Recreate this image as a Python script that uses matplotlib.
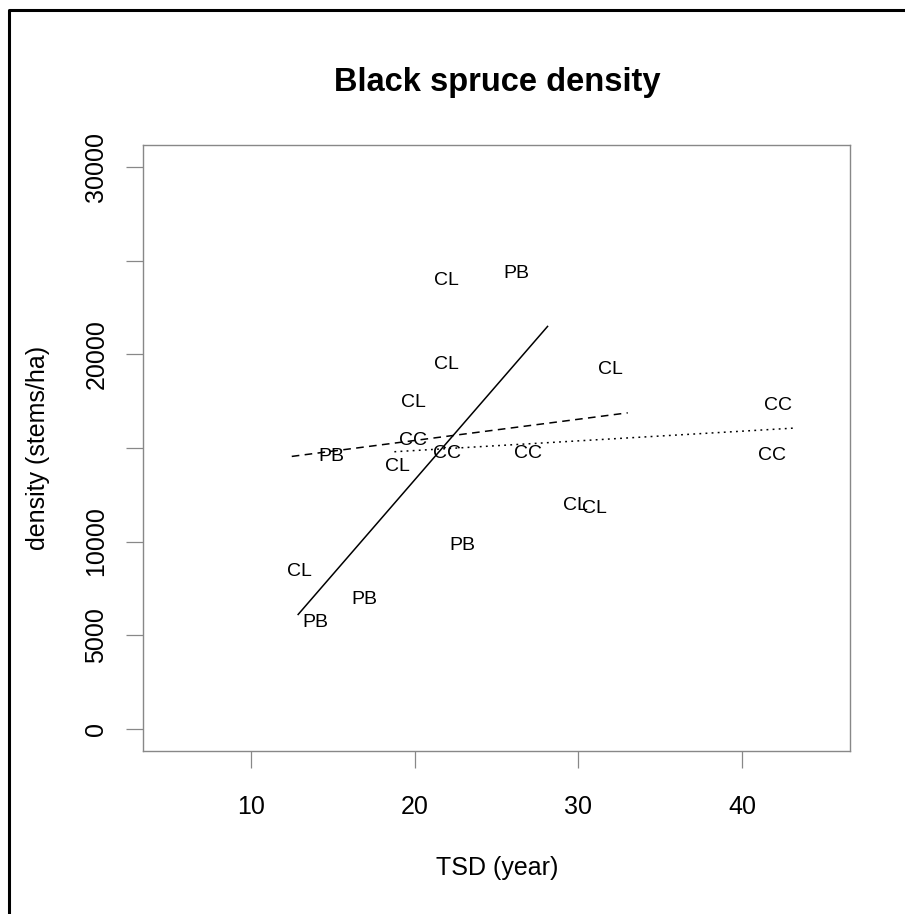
import numpy as np
import matplotlib
matplotlib.use("Agg")
from matplotlib import pyplot as plt
from matplotlib.lines import Line2D

plt.rcParams['font.family'] = ['Liberation Sans', 'DejaVu Sans']

# site labels, TSD (year) and density (stems/ha)
site = ['CL', 'PB', 'CL', 'CL', 'CL', 'CC', 'CC', 'PB', 'CL', 'CC', 'CC',
        'CC', 'CL', 'CL', 'PB', 'CL', 'PB', 'PB']
tsd = [21.95, 26.24, 21.95, 31.94, 19.93, 42.23, 19.87, 14.9, 18.95, 21.95,
       26.9, 41.86, 29.85, 30.96, 22.93, 12.94, 16.92, 13.92]
density = [23950, 24330, 19470, 19200, 17430, 17270, 15400, 14550, 14010,
           14700, 14700, 14600, 11930, 11770, 9790, 8400, 6900, 5670]

# fitted lines (start/end) per group
fit_solid_x = [12.88, 28.12]
fit_solid_y = [6100, 21500]
fit_dash_x = [12.49, 33.02]
fit_dash_y = [14550, 16880]
fit_dot_x = [18.76, 43.1]
fit_dot_y = [14800, 16060]

xticks = [10, 20, 30, 40]
yticks = [0, 5000, 10000, 15000, 20000, 25000, 30000]
ytick_labels = ['0', '5000', '10000', '', '20000', '', '30000']

W, H = 905, 914
fig = plt.figure(figsize=(W / 100, H / 100), dpi=100)
ax = fig.add_axes([143 / W, 1 - 751 / H, (850 - 143) / W, (751 - 145) / H])

for s, x, y in zip(site, tsd, density):
    ax.text(x, y, s, ha='center', va='center', fontsize=14)

ax.plot(fit_solid_x, fit_solid_y, color='black', lw=1.1)
ax.plot(fit_dash_x, fit_dash_y, color='black', lw=1.1, dashes=(5, 3.5))
ax.plot(fit_dot_x, fit_dot_y, color='black', lw=1.1, dashes=(1.2, 2.8))

# R style 4% padding
ax.set_xlim(5 - 1.6, 45 + 1.6)
ax.set_ylim(-1200, 31200)

gray = '#888888'
for sp in ax.spines.values():
    sp.set_color(gray)
    sp.set_linewidth(1.0)

ax.set_xticks(xticks)
ax.set_xticklabels([str(t) for t in xticks])
ax.set_yticks(yticks)
ax.set_yticklabels(ytick_labels, rotation=90, va='center')
ax.tick_params(axis='both', direction='out', length=12, width=0.9,
               color=gray, labelsize=18, labelcolor='black')
ax.tick_params(axis='x', pad=20)
ax.tick_params(axis='y', pad=13)

ax.set_xlabel('TSD (year)', fontsize=18, va='center')
ax.set_ylabel('density (stems/ha)', fontsize=18, va='center')
ax.xaxis.set_label_coords((497 - 143) / (850 - 143), -(868 - 751) / (751 - 145))
ax.yaxis.set_label_coords(-(143 - 38) / (850 - 143), 0.5)

fig.text(497 / W, 1 - 83 / H, 'Black spruce density', ha='center', va='center',
         fontsize=23.5, fontweight='bold')

# outer frame (left and top edges visible)
fx, fy = 9 / W, 1 - 10 / H
fig.add_artist(Line2D([fx, fx, 1.01], [-0.01, fy, fy], color='black', lw=2.2,
                      transform=fig.transFigure))

fig.savefig('out.png', dpi=100)
